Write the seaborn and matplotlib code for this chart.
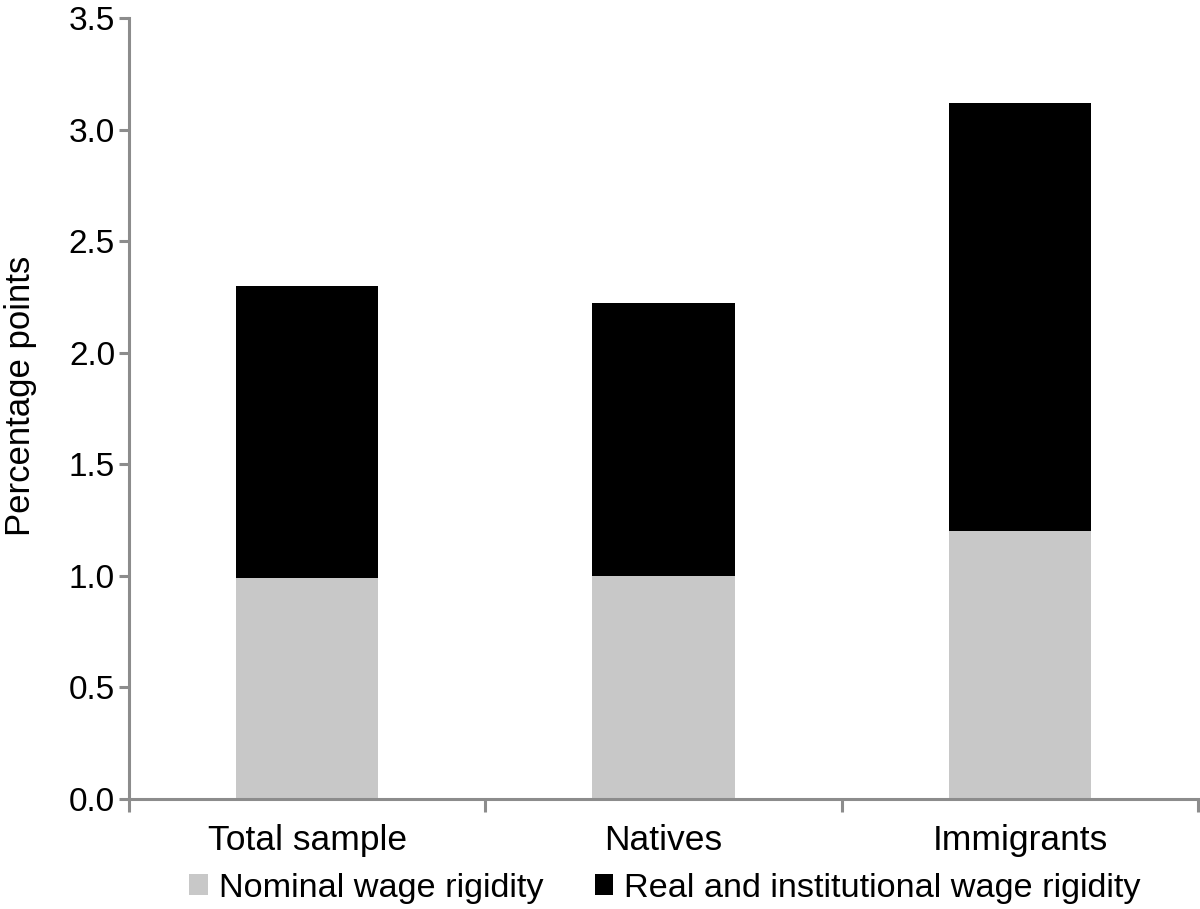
import matplotlib
matplotlib.use("Agg")
import matplotlib.pyplot as plt
from matplotlib.patches import Patch
from matplotlib.ticker import FixedLocator
import pandas as pd
import seaborn as sns

# ── data ──────────────────────────────────────────────────────────────────────
groups  = ["Total sample", "Natives", "Immigrants"]
nominal = [0.99, 1.00, 1.20]          # nominal wage rigidity
real    = [1.31, 1.225, 1.92]         # real and institutional wage rigidity

series_names = ["Nominal wage rigidity", "Real and institutional wage rigidity"]
y_ticks = [0.0, 0.5, 1.0, 1.5, 2.0, 2.5, 3.0, 3.5]

GREY  = "#c8c8c8"
BLACK = "#000000"
AXIS  = "#8c8c8c"

df = pd.DataFrame({"group": groups, "nominal": nominal, "real": real})

# ── figure ────────────────────────────────────────────────────────────────────
sns.set_style("white")
plt.rcParams["font.family"] = ["Liberation Sans", "DejaVu Sans"]
plt.rcParams["text.color"] = "black"
plt.rcParams["axes.labelcolor"] = "black"
plt.rcParams["xtick.labelcolor"] = "black"
plt.rcParams["ytick.labelcolor"] = "black"

fig = plt.figure(figsize=(12, 9.09), dpi=100)
ax = fig.add_axes([0.1075, 0.121, 0.891, 0.859])

sns.barplot(data=df, x="group", y="nominal", color=GREY, width=0.4,
            saturation=1, ax=ax, linewidth=0)
sns.barplot(data=df, x="group", y="real", bottom=df["nominal"], color=BLACK,
            width=0.4, saturation=1, ax=ax, linewidth=0)

ax.set_xlim(-0.5, 2.5)
ax.set_ylim(0, 3.5)
ax.set_yticks(y_ticks)
ax.set_yticklabels([f"{t:.1f}" for t in y_ticks])
ax.set_xlabel("")
ax.set_ylabel("Percentage points", fontsize=25)
ax.yaxis.set_label_coords(-0.086, 0.516)

for side in ["top", "right"]:
    ax.spines[side].set_visible(False)
for side in ["left", "bottom"]:
    ax.spines[side].set_color(AXIS)
    ax.spines[side].set_linewidth(2.2)

ax.tick_params(axis="y", direction="out", length=7, width=2.2, color=AXIS,
               labelsize=24, pad=3, left=True)
ax.tick_params(axis="x", which="major", length=0, labelsize=25.5, pad=18)
ax.xaxis.set_minor_locator(FixedLocator([-0.5, 0.5, 1.5, 2.5]))
ax.tick_params(axis="x", which="minor", direction="out", length=9, width=2.2,
               color=AXIS, bottom=True)

handles = [Patch(facecolor=GREY, edgecolor="none"),
           Patch(facecolor=BLACK, edgecolor="none")]
fig.legend(handles, series_names, loc="center", bbox_to_anchor=(0.554, 0.023),
           ncol=2, frameon=False, fontsize=24.7, handlelength=0.55,
           handleheight=0.55, handletextpad=0.3, columnspacing=1.5)

fig.savefig("out.png", dpi=100)
